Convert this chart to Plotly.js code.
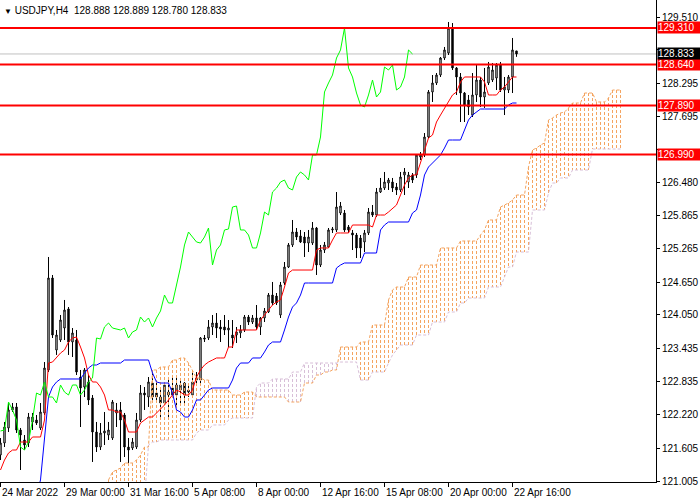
<!DOCTYPE html>
<html><head><meta charset="utf-8">
<script src="https://cdn.plot.ly/plotly-3.0.1.min.js"></script>
<style>html,body{margin:0;padding:0;background:#fff}#chart{width:700px;height:500px}</style>
</head><body><div id="chart"></div>
<script>
const symbol = "USDJPY,H4";
const lastQuote = [128.888, 128.889, 128.780, 128.833];

const open = [121.483,121.703,121.978,122.308,122.363,121.941,121.758,121.703,122.088,122.124,
121.978,122.253,123.041,124.727,123.407,123.590,123.810,124.159,123.554,123.590,
122.912,122.729,122.821,122.527,121.904,121.629,121.886,121.849,121.794,122.253,
122.308,122.216,121.629,121.611,121.629,122.124,122.619,122.546,122.802,122.619,
122.546,122.436,122.582,122.711,122.582,122.674,122.802,122.637,122.582,122.857,
122.857,123.627,123.627,123.829,123.902,123.829,123.829,123.774,123.682,123.682,
123.719,123.774,124.012,123.920,123.994,123.829,123.994,124.104,124.415,124.397,
124.049,124.635,124.928,125.332,125.570,125.497,125.478,125.368,125.368,125.643,
124.965,125.240,125.295,125.607,125.607,125.918,125.918,125.662,125.552,125.515,
125.460,125.387,125.552,125.936,125.881,126.303,126.376,126.468,126.486,126.395,
126.340,126.615,126.486,126.615,126.615,126.944,126.981,127.311,128.136,128.301,
128.447,128.759,128.851,129.309,128.576,128.411,128.117,127.989,127.714,128.081,
128.356,128.044,128.301,128.356,128.392,128.631,128.172,128.172,128.411,128.888];

const high = [121.794,122.088,122.436,122.436,122.436,121.978,121.849,122.253,122.253,122.216,
122.436,123.187,125.112,124.782,123.774,124.049,124.324,124.195,123.810,123.774,
123.041,123.077,122.949,122.582,122.088,122.069,122.271,122.088,122.491,122.436,
122.454,122.253,121.794,121.794,122.253,122.766,122.729,122.912,123.004,122.802,
122.729,122.821,122.857,122.912,122.949,122.894,122.821,122.802,123.004,123.004,
123.645,123.682,123.957,124.049,124.085,123.957,124.049,123.957,123.957,123.829,
123.865,124.049,124.049,124.049,124.232,124.012,124.177,124.452,124.654,124.452,
124.654,125.020,125.368,125.790,125.643,125.607,125.570,125.607,125.753,125.662,
125.332,125.387,125.643,125.662,126.303,126.120,125.973,125.698,125.607,125.552,
125.515,125.607,126.010,126.065,126.376,126.560,126.670,126.560,126.560,126.468,
126.670,126.743,126.670,126.651,126.981,127.036,127.384,128.172,128.447,128.484,
128.777,128.961,129.419,129.400,128.594,128.484,128.136,128.081,128.484,128.631,
128.411,128.576,128.686,128.667,128.667,128.686,128.411,128.447,129.126,128.889];

const low = [121.391,121.629,121.904,122.271,121.886,121.208,121.574,121.629,121.941,122.033,
121.941,122.216,123.004,123.627,123.316,123.554,123.590,123.316,123.279,122.949,
121.996,122.546,122.399,121.355,121.538,121.574,121.666,121.758,121.758,121.996,
121.355,121.446,121.336,121.574,121.593,122.088,122.308,122.363,122.454,122.491,
122.179,122.399,122.179,122.546,122.363,122.436,122.436,122.546,122.546,122.802,
122.802,123.554,123.590,123.682,123.627,123.554,123.682,123.462,123.444,123.535,
123.627,123.737,123.865,123.884,123.774,123.682,123.920,124.085,124.232,124.232,
123.994,124.599,124.910,125.295,125.423,125.368,125.112,125.203,125.332,124.782,
124.928,125.185,125.277,125.552,125.570,125.881,125.570,125.552,125.240,125.093,
125.093,125.203,125.515,125.845,125.845,126.285,126.340,126.340,126.303,126.248,
126.303,126.248,126.376,126.468,126.560,126.890,126.944,127.293,127.953,128.264,
128.411,128.722,128.814,128.539,128.081,127.586,127.586,127.714,127.678,127.953,
127.861,127.843,128.264,128.319,128.172,128.136,127.714,128.117,128.117,128.780];

const close = [121.703,121.996,122.308,122.363,121.941,121.849,121.666,122.179,122.179,122.069,
122.271,123.077,124.727,123.682,123.682,123.957,124.140,123.554,123.719,123.004,
122.711,123.041,122.491,121.904,121.629,121.886,121.923,121.941,122.454,122.308,
122.124,121.629,121.574,121.721,122.124,122.619,122.582,122.821,122.546,122.546,
122.436,122.766,122.637,122.582,122.766,122.766,122.582,122.674,122.821,122.894,
123.627,123.609,123.829,123.902,123.810,123.792,123.774,123.810,123.627,123.737,
123.774,124.012,123.920,123.994,123.829,123.994,124.122,124.415,124.269,124.269,
124.599,124.928,125.332,125.570,125.478,125.387,125.368,125.478,125.643,124.965,
125.240,125.332,125.607,125.625,126.028,126.046,125.607,125.607,125.515,125.277,
125.277,125.552,125.936,125.881,126.303,126.376,126.486,126.523,126.376,126.340,
126.578,126.670,126.615,126.523,126.981,126.981,127.311,128.136,128.301,128.447,
128.759,128.906,129.309,128.576,128.411,128.117,127.898,127.861,128.081,128.356,
128.044,128.136,128.594,128.539,128.631,128.172,128.227,128.411,128.906,128.833];

const tenkan = [121.208,121.391,121.519,121.574,121.574,121.721,121.721,121.721,121.813,121.813,
121.813,122.124,123.169,123.187,123.279,123.352,123.407,123.554,123.627,123.645,
123.462,123.261,122.949,122.821,122.821,122.729,122.582,122.308,122.308,122.271,
122.271,122.124,121.904,121.904,121.904,122.069,122.124,122.179,122.179,122.253,
122.308,122.399,122.491,122.582,122.674,122.637,122.582,122.582,122.674,122.912,
123.041,123.132,123.187,123.224,123.261,123.261,123.261,123.462,123.462,123.774,
123.774,123.774,123.774,123.774,123.774,123.957,124.049,124.140,124.232,124.287,
124.324,124.562,124.818,124.873,124.873,124.873,124.873,124.873,124.873,125.240,
125.277,125.277,125.277,125.423,125.552,125.552,125.552,125.552,125.698,125.698,
125.698,125.698,125.698,125.662,125.881,125.881,125.881,125.936,126.010,126.065,
126.248,126.431,126.560,126.615,126.615,126.853,127.073,127.293,127.348,127.586,
127.714,127.843,127.953,128.081,128.136,128.319,128.411,128.411,128.411,128.411,
128.411,128.319,128.081,128.081,128.081,128.172,128.227,128.319,128.411,128.411];

const kijun = [120.750,120.750,120.750,120.750,120.750,120.750,120.750,120.750,120.750,120.750,
121.025,121.758,122.546,122.729,122.821,122.876,122.876,122.876,122.876,122.876,
122.876,122.986,123.077,123.132,123.132,123.169,123.169,123.169,123.169,123.169,
123.169,123.224,123.224,123.224,123.224,123.224,123.224,123.224,122.986,122.821,
122.802,122.802,122.802,122.619,122.308,122.271,122.179,122.179,122.308,122.491,
122.491,122.582,122.674,122.711,122.711,122.711,122.711,122.711,122.857,123.077,
123.169,123.169,123.169,123.261,123.261,123.261,123.371,123.499,123.554,123.554,
123.554,123.774,124.012,124.195,124.269,124.415,124.635,124.635,124.635,124.635,
124.635,124.635,124.635,124.635,124.910,124.965,125.002,125.002,125.002,125.002,
125.002,125.185,125.185,125.185,125.185,125.607,125.698,125.753,125.753,125.753,
125.753,125.753,125.753,125.918,125.973,126.248,126.615,126.761,126.835,126.926,
126.981,127.109,127.256,127.256,127.256,127.256,127.439,127.623,127.714,127.769,
127.824,127.824,127.824,127.824,127.824,127.824,127.824,127.898,127.934,127.934];

const spanStart = 27;
const spanA = [121.025,121.171,121.208,121.244,121.336,121.336,121.336,121.391,121.483,121.629,121.629,
123.041,123.041,123.096,123.096,123.096,123.224,123.224,123.261,123.261,123.169,123.041,
122.894,122.894,122.857,122.857,122.674,122.674,122.674,122.674,122.674,122.582,
122.582,122.582,122.637,122.637,122.637,122.546,122.546,122.546,122.546,122.546,
122.546,122.546,122.546,122.454,122.454,122.454,122.454,122.802,122.802,122.802,
122.949,122.949,123.004,123.004,123.041,123.041,123.462,123.462,123.462,123.462,
123.462,123.554,123.554,123.554,123.865,123.865,123.865,123.865,124.324,124.507,
124.562,124.562,124.562,124.745,124.745,124.745,124.965,124.965,124.965,124.965,
124.965,125.277,125.277,125.277,125.277,125.277,125.405,125.405,125.405,125.405,
125.405,125.515,125.607,125.790,125.790,125.790,126.028,126.065,126.101,126.156,
126.248,126.248,126.248,126.761,127.073,127.109,127.164,127.201,127.623,127.659,
127.714,127.751,127.769,127.843,127.934,127.934,127.934,128.117,128.117,128.117,
127.953,127.953,127.953,128.026,128.172,128.172,128.172];
const spanB = [120.658,120.658,120.658,120.658,120.658,120.658,120.658,120.658,120.658,120.658,121.666,
121.721,121.721,121.758,121.758,121.758,121.758,121.758,121.758,121.758,121.758,121.758,
121.886,121.941,121.941,121.941,122.033,122.033,122.033,122.033,122.124,122.161,
122.161,122.161,122.161,122.161,122.161,122.729,122.802,122.802,122.802,122.876,
122.876,122.876,122.876,122.876,123.004,123.004,123.004,123.169,123.169,123.169,
123.169,123.169,123.169,123.169,123.169,123.169,123.187,123.187,123.187,123.187,
123.187,122.857,122.857,122.857,123.004,123.004,123.004,123.004,123.169,123.316,
123.407,123.499,123.499,123.499,123.499,123.682,123.682,123.682,123.682,123.920,
123.920,123.920,123.920,124.104,124.104,124.104,124.269,124.269,124.360,124.360,
124.360,124.360,124.360,124.562,124.562,124.562,124.562,124.745,124.928,124.928,
125.203,125.203,125.203,125.203,125.973,125.973,125.973,125.973,126.285,126.468,
126.468,126.560,126.560,126.560,126.706,126.706,126.706,126.706,126.706,127.091,
127.091,127.091,127.091,127.091,127.091,127.091,127.091];
const chikouShift = 26;

const levels = [129.310, 128.640, 127.890, 126.990];
const bid = 128.833;
const xTickBars = [0, 16, 32, 48, 64, 80, 96, 112, 128];
const xTickLabels = ["24 Mar 2022","29 Mar 00:00","31 Mar 16:00","5 Apr 08:00","8 Apr 00:00","12 Apr 16:00","15 Apr 08:00","20 Apr 00:00","22 Apr 16:00"];
const yTickVals = [129.510,128.910,128.295,127.695,127.080,126.480,125.865,125.265,124.650,124.050,123.435,122.835,122.220,121.605,121.005];
// tick labels hidden behind the price tags in the reference
const yTickHidden = [128.910, 127.080];

const FONT = 'Liberation Sans, Arial, sans-serif';
const barX = close.map((_, i) => i);
const spanX = spanA.map((_, k) => spanStart + k);

const up = {x: [], y: []}, dn = {x: [], y: []};
spanA.forEach((a, k) => {
  const b = spanB[k];
  const t = a >= b ? up : dn;
  t.x.push(spanX[k], spanX[k], null);
  t.y.push(a, b, null);
});

const traces = [
  {type: 'scatter', mode: 'lines', x: up.x, y: up.y, line: {color: '#F4A460', width: 1, dash: '3px,2px'}, hoverinfo: 'skip', connectgaps: false},
  {type: 'scatter', mode: 'lines', x: dn.x, y: dn.y, line: {color: '#D8BFD8', width: 1, dash: '3px,2px'}, hoverinfo: 'skip', connectgaps: false},
  {type: 'scatter', mode: 'lines', x: spanX, y: spanA, line: {color: '#F4A460', width: 1, dash: '3px,2px'}, hoverinfo: 'skip'},
  {type: 'scatter', mode: 'lines', x: spanX, y: spanB, line: {color: '#D8BFD8', width: 1, dash: '3px,2px'}, hoverinfo: 'skip'},
  {type: 'candlestick', x: barX, open: open, high: high, low: low, close: close,
   increasing: {line: {color: '#000000', width: 1}, fillcolor: '#FFFFFF'},
   decreasing: {line: {color: '#000000', width: 1}, fillcolor: '#000000'},
   whiskerwidth: 0, hoverinfo: 'skip'},
  {type: 'scatter', mode: 'lines', x: barX, y: tenkan, line: {color: '#FF0000', width: 1}, hoverinfo: 'skip'},
  {type: 'scatter', mode: 'lines', x: barX, y: kijun, line: {color: '#0000FF', width: 1}, hoverinfo: 'skip'},
  {type: 'scatter', mode: 'lines', x: barX.slice(chikouShift).map(i => i - chikouShift), y: close.slice(chikouShift), line: {color: '#00FF00', width: 1}, hoverinfo: 'skip'}
];

const shapes = [
  {type: 'line', xref: 'paper', x0: 0, x1: 1, yref: 'y', y0: bid, y1: bid, line: {color: '#C0C0C0', width: 1}, layer: 'below'}
].concat(levels.map(v => ({type: 'line', xref: 'paper', x0: 0, x1: 1, yref: 'y', y0: v, y1: v, line: {color: '#FF0000', width: 2}, layer: 'above'})));

const priceLabel = (v, bg) => ({xref: 'paper', x: 1, xanchor: 'left', xshift: 1, yref: 'y', y: v, yanchor: 'middle',
  text: v.toFixed(3), showarrow: false, bgcolor: bg, borderpad: 0, width: 42, height: 11, align: 'left',
  font: {family: FONT, size: 10, color: '#FFFFFF'}});

const xLabels = xTickBars.map((b, k) => ({xref: 'x', x: b, xanchor: 'left', xshift: -1, yref: 'paper', y: 0, yanchor: 'top', yshift: -3,
  text: xTickLabels[k], showarrow: false, font: {family: FONT, size: 10, color: '#000000'}}));

const annotations = levels.map(v => priceLabel(v, '#FF0000')).concat([priceLabel(bid, '#000000'),
  {xref: 'paper', x: 0, xanchor: 'left', xshift: 2, yref: 'paper', y: 1, yanchor: 'top', yshift: -3,
   text: '<span style="font-size:8px">▼</span>\u00a0' + symbol + '\u00a0\u00a0' + lastQuote.map(v => v.toFixed(3)).join('\u00a0'),
   showarrow: false, font: {family: FONT, size: 10, color: '#000000'}}]).concat(xLabels);

const layout = {
  width: 700, height: 500,
  margin: {l: 0, r: 44, t: 0, b: 18, pad: 0},
  paper_bgcolor: '#FFFFFF', plot_bgcolor: '#FFFFFF',
  showlegend: false, boxgap: 0.5,
  xaxis: {range: [-0.125, 163.875], tickvals: xTickBars, showticklabels: false, ticks: 'outside', ticklen: 4,
    tickcolor: '#000', showline: true, linecolor: '#000', linewidth: 1, showgrid: false, zeroline: false,
    rangeslider: {visible: false}, fixedrange: true},
  yaxis: {side: 'right', range: [120.988, 129.822], tickvals: yTickVals,
    ticktext: yTickVals.map(v => yTickHidden.includes(v) ? '' : v.toFixed(3)),
    ticks: 'outside', ticklen: 3, tickcolor: '#000', showline: true, linecolor: '#000', linewidth: 1,
    showgrid: false, zeroline: false, tickfont: {family: FONT, size: 10, color: '#000'}, fixedrange: true},
  shapes: shapes,
  annotations: annotations
};

Plotly.newPlot('chart', traces, layout, {displayModeBar: false, staticPlot: true});
</script>
</body></html>
